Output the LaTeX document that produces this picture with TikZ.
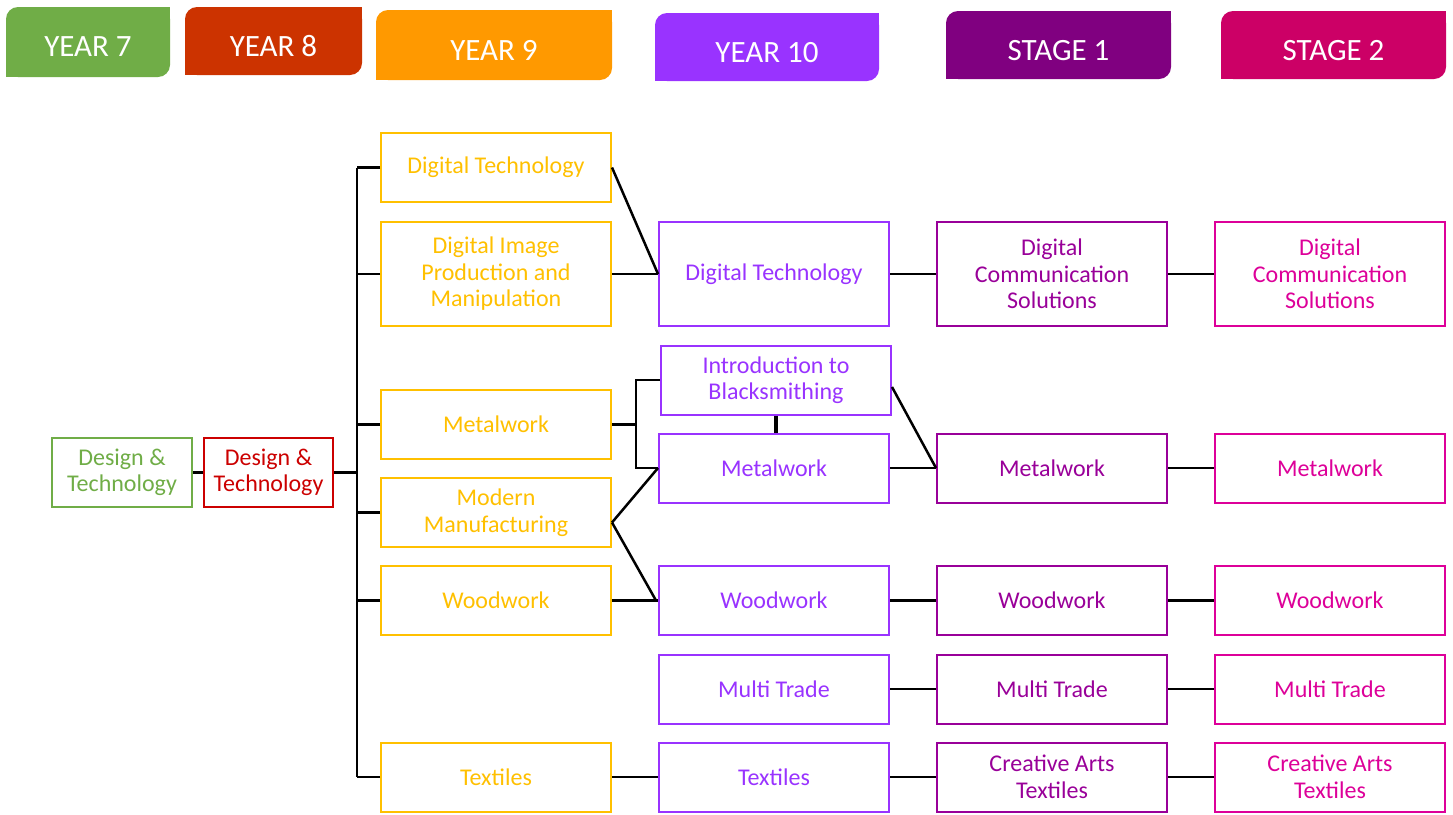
\documentclass[tikz,border=0pt]{standalone}
\usepackage{fontspec}
\setmainfont{Carlito}
\usetikzlibrary{calc}
\definecolor{hgreen}{HTML}{70AD47}
\definecolor{hred}{HTML}{CC3300}
\definecolor{horange}{HTML}{FF9900}
\definecolor{hviolet}{HTML}{9933FF}
\definecolor{hplum}{HTML}{800080}
\definecolor{hpink}{HTML}{CC0066}
\definecolor{bgreen}{HTML}{70AD47}
\definecolor{bred}{HTML}{CC0000}
\definecolor{bgold}{HTML}{FFC000}
\definecolor{bviolet}{HTML}{9933FF}
\definecolor{bplum}{HTML}{990099}
\definecolor{bpink}{HTML}{DD0099}
\newcommand\mytab[5]{%
  \fill[#5, rounded corners=12pt] (#1,#2) rectangle (#3,#4);
  \fill[#5] (#3-16,#2) rectangle (#3,#2+16);
  \fill[#5] (#1,#4-16) rectangle (#1+16,#4);
}
\begin{document}
\begin{tikzpicture}[x=1pt,y=-1pt,
  hdr/.style={text=white, inner sep=0pt, font=\fontsize{31}{31}\selectfont},
  box/.style={draw, line width=2pt, minimum width=230pt, minimum height=69pt,
    align=center, inner sep=2pt, font=\fontsize{24}{26.5}\selectfont},
  tall/.style={minimum height=104pt},
  yseven/.style={box, draw=bgreen, text=bgreen, minimum width=140pt},
  yeight/.style={box, draw=bred, text=bred, minimum width=129pt},
  ynine/.style={box, draw=bgold, text=bgold},
  yten/.style={box, draw=bviolet, text=bviolet},
  sone/.style={box, draw=bplum, text=bplum},
  stwo/.style={box, draw=bpink, text=bpink},
  conn/.style={line width=2.5pt, black}
]
\useasboundingbox (0,0) rectangle (1453,814);
\fill[white] (0,0) rectangle (1453,814);

% header tabs
\mytab{6}{7}{170}{77}{hgreen}
\mytab{185}{7}{362}{75}{hred}
\mytab{376}{10}{612}{80}{horange}
\mytab{655}{13}{879}{81}{hviolet}
\mytab{946}{11}{1171}{79}{hplum}
\mytab{1221}{11}{1446}{79}{hpink}
\node[hdr] (h7) at (88,47) {YEAR 7};
\node[hdr] (h8) at (273.5,46.5) {YEAR 8};
\node[hdr] (h9) at (494,50) {YEAR 9};
\node[hdr] (h10) at (767,52.5) {YEAR 10};
\node[hdr] (hs1) at (1058.5,51) {STAGE 1};
\node[hdr] (hs2) at (1333.5,51) {STAGE 2};

% boxes
\node[yseven] (y7) at (122,472.5) {Design \&\\Technology};
\node[yeight] (y8) at (268.5,472.5) {Design \&\\Technology};

\node[ynine] (y9dt) at (496,167.5) {Digital Technology};
\node[ynine, tall] (y9di) at (496,274) {Digital Image\\Production and\\Manipulation};
\node[ynine] (y9mw) at (496,424.5) {Metalwork};
\node[ynine] (y9mm) at (496,512.5) {Modern\\Manufacturing};
\node[ynine] (y9wd) at (496,600.5) {Woodwork};
\node[ynine] (y9tx) at (496,777) {Textiles};

\node[yten, tall] (y10dt) at (774,274) {Digital Technology};
\node[yten] (y10bs) at (776,380) {Introduction to\\Blacksmithing};
\node[yten] (y10mw) at (774,468) {Metalwork};
\node[yten] (y10wd) at (774,600.5) {Woodwork};
\node[yten] (y10mt) at (774,689) {Multi Trade};
\node[yten] (y10tx) at (774,777) {Textiles};

\node[sone, tall] (s1dc) at (1052,274) {Digital\\Communication\\Solutions};
\node[sone] (s1mw) at (1052,468) {Metalwork};
\node[sone] (s1wd) at (1052,600.5) {Woodwork};
\node[sone] (s1mt) at (1052,689) {Multi Trade};
\node[sone] (s1tx) at (1052,777) {Creative Arts\\Textiles};

\node[stwo, tall] (s2dc) at (1330,274) {Digital\\Communication\\Solutions};
\node[stwo] (s2mw) at (1330,468) {Metalwork};
\node[stwo] (s2wd) at (1330,600.5) {Woodwork};
\node[stwo] (s2mt) at (1330,689) {Multi Trade};
\node[stwo] (s2tx) at (1330,777) {Creative Arts\\Textiles};

% connectors
\coordinate (tr) at (357,0);
\coordinate (mf) at (636,0);
\draw[conn] (y7.east) -- (y8.west);
\draw[conn] (y8.east) -- (y8.east -| tr);
\draw[conn] (y9dt.west -| tr) -- (y9tx.west -| tr);
\foreach \n in {y9dt,y9di,y9mw,y9mm,y9wd,y9tx}
  \draw[conn] (\n.west) -- (\n.west -| tr);

\draw[conn] (y9dt.east) -- (y10dt.west);
\draw[conn] (y9di.east) -- (y10dt.west);
\draw[conn] (y9mw.east) -- (y9mw.east -| mf);
\draw[conn] (y10bs.west) -- (y10bs.west -| mf) -- (y10mw.west -| mf) -- (y10mw.west);
\draw[conn, line width=3.5pt] (y10bs.south) -- (y10bs.south |- y10mw.north);
\draw[conn] ($(y9mm.east)+(0,10)$) -- (y10mw.west);
\draw[conn] ($(y9mm.east)+(0,10)$) -- ($(y10wd.west)+(-2,0)$);
\draw[conn] (y9wd.east) -- (y10wd.west);
\draw[conn] (y9tx.east) -- (y10tx.west);

\draw[conn] (y10dt.east) -- (s1dc.west);
\draw[conn] ($(y10bs.east)+(0,7)$) -- (s1mw.west);
\draw[conn] (y10mw.east) -- (s1mw.west);
\draw[conn] (y10wd.east) -- (s1wd.west);
\draw[conn] (y10mt.east) -- (s1mt.west);
\draw[conn] (y10tx.east) -- (s1tx.west);

\draw[conn] (s1dc.east) -- (s2dc.west);
\draw[conn] (s1mw.east) -- (s2mw.west);
\draw[conn] (s1wd.east) -- (s2wd.west);
\draw[conn] (s1mt.east) -- (s2mt.west);
\draw[conn] (s1tx.east) -- (s2tx.west);
\end{tikzpicture}
\end{document}
